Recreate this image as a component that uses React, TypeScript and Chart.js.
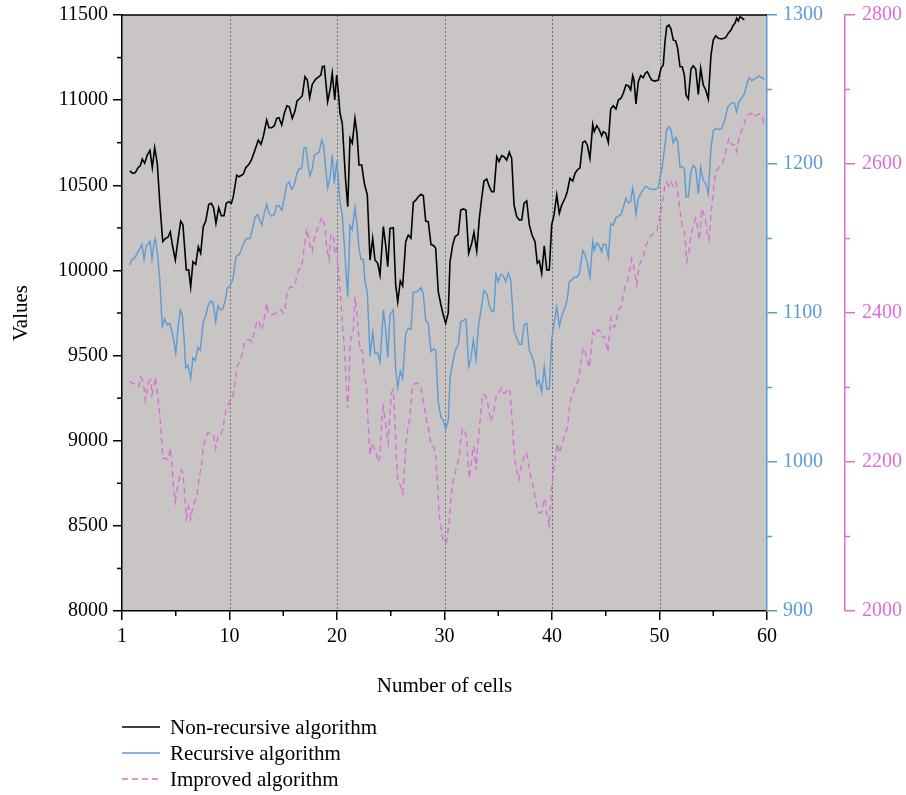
import React, { useEffect, useRef } from 'react';
import { Chart, registerables } from 'chart.js';

Chart.register(...registerables);

const FONT = "'Liberation Serif', 'DejaVu Serif', serif";
const BLACK = '#000000';
const BLUE = '#5b9bd5';
const PINK = '#d870d6';
const PLOT_BG = '#c9c5c5';

const seriesLabels = ['Non-recursive algorithm', 'Recursive algorithm', 'Improved algorithm'];

const nonRecX = [0.72,1.02,1.24,1.49,1.70,1.89,2.11,2.35,2.60,2.82,3.04,3.28,3.53,3.79,4.07,4.28,4.49,4.72,4.96,5.21,5.46,5.67,5.83,5.98,6.20,6.39,6.60,6.86,7.10,7.32,7.56,7.79,8.07,8.31,8.53,8.74,9.00,9.24,9.49,9.70,9.95,10.17,10.35,10.67,10.88,11.28,11.51,11.81,12.07,12.37,12.68,12.93,13.14,13.46,13.67,13.93,14.17,14.39,14.60,14.86,15.10,15.35,15.56,15.84,16.09,16.28,16.56,16.77,17.02,17.24,17.46,17.70,18.02,18.33,18.51,18.63,18.82,19.13,19.38,19.56,19.79,19.97,20.12,20.28,20.49,20.68,20.81,21.00,21.21,21.42,21.67,21.86,22.05,22.30,22.54,22.82,23.07,23.32,23.53,23.79,24.00,24.31,24.53,24.72,24.93,25.24,25.46,25.65,25.89,26.11,26.39,26.63,26.88,27.10,27.35,27.56,27.81,28.03,28.25,28.49,28.74,29.00,29.18,29.42,29.67,29.89,30.11,30.35,30.51,30.76,30.98,31.28,31.51,31.75,32.00,32.25,32.53,32.74,33.00,33.24,33.46,33.67,33.93,34.17,34.39,34.60,34.86,35.07,35.32,35.53,35.79,36.03,36.25,36.47,36.72,36.96,37.18,37.40,37.65,37.89,38.14,38.42,38.63,38.82,39.04,39.28,39.51,39.75,39.97,40.19,40.44,40.68,40.90,41.21,41.42,41.67,41.93,42.14,42.35,42.60,42.86,43.07,43.28,43.53,43.79,43.93,44.16,44.40,44.62,44.77,45.00,45.24,45.46,45.70,45.95,46.17,46.42,46.63,46.88,47.10,47.32,47.51,47.63,47.81,48.03,48.25,48.49,48.68,48.87,49.05,49.27,49.58,49.89,50.14,50.35,50.51,50.67,50.88,51.07,51.28,51.51,51.69,51.91,52.12,52.31,52.47,52.68,52.93,53.14,53.37,53.61,53.83,54.07,54.30,54.54,54.79,55.00,55.23,55.47,55.79,56.16,56.40,56.65,56.87,57.02,57.18,57.33,57.49,57.70,57.89];
const nonRecValues = [10584,10570,10574,10603,10615,10654,10629,10678,10705,10603,10721,10629,10384,10169,10189,10195,10227,10139,10061,10179,10290,10267,10130,10003,10003,9904,10051,10036,10139,10101,10257,10290,10388,10394,10365,10277,10368,10321,10321,10394,10404,10394,10433,10560,10550,10565,10603,10623,10654,10707,10766,10741,10785,10883,10838,10838,10850,10893,10897,10854,10923,10967,10961,10893,10936,10995,11011,11026,11138,11118,11014,11093,11124,11138,11148,11196,11200,10991,11071,11158,11001,11148,11050,10923,10864,10658,10521,10374,10776,10747,10893,10805,10619,10619,10512,10443,10061,10189,10061,10042,9973,10257,10149,10022,10247,10251,9914,9816,9938,9909,10169,10208,10189,10400,10414,10433,10447,10439,10290,10286,10153,10145,10130,9875,9797,9738,9690,9750,10051,10149,10198,10212,10355,10361,10355,10101,10159,10224,10114,10306,10424,10525,10537,10492,10462,10462,10668,10639,10674,10668,10648,10694,10658,10384,10316,10296,10296,10394,10408,10267,10208,10169,10042,10055,9983,10145,10003,10003,10267,10326,10443,10335,10384,10424,10462,10541,10525,10570,10590,10603,10752,10760,10737,10658,10858,10815,10850,10825,10791,10815,10805,10752,10948,10967,10948,11001,11011,11040,11089,11085,11060,11144,11118,10977,11108,11144,11132,11158,11167,11144,11118,11112,11118,11187,11206,11343,11431,11441,11418,11353,11347,11304,11196,11196,11148,11030,11007,11183,11202,11183,11034,11187,11089,11060,11007,11265,11353,11378,11363,11359,11367,11393,11412,11441,11451,11481,11465,11490,11481,11472];

const recX = [0.72,0.93,1.18,1.42,1.65,1.86,2.05,2.26,2.42,2.60,2.79,2.98,3.10,3.28,3.51,3.75,3.97,4.21,4.44,4.59,4.81,5.00,5.21,5.42,5.61,5.77,5.93,6.14,6.39,6.60,6.82,7.07,7.28,7.56,7.79,8.00,8.25,8.47,8.72,8.93,9.18,9.40,9.61,9.80,10.05,10.33,10.60,10.88,11.13,11.38,11.60,11.91,12.12,12.37,12.62,12.84,13.00,13.24,13.46,13.67,13.93,14.17,14.39,14.60,14.86,15.10,15.32,15.53,15.79,16.03,16.25,16.47,16.72,16.93,17.12,17.33,17.49,17.70,17.89,18.11,18.33,18.58,18.76,18.95,19.13,19.35,19.56,19.75,19.97,20.12,20.28,20.49,20.68,20.84,21.00,21.21,21.42,21.67,21.86,22.05,22.23,22.45,22.60,22.82,23.07,23.32,23.53,23.79,24.00,24.31,24.53,24.72,24.93,25.24,25.46,25.65,25.89,26.11,26.39,26.63,26.88,27.10,27.35,27.56,27.81,28.03,28.25,28.49,28.74,29.00,29.18,29.42,29.67,29.89,30.11,30.35,30.53,30.72,30.98,31.13,31.28,31.51,31.75,32.00,32.25,32.47,32.68,32.93,33.14,33.37,33.67,33.93,34.17,34.39,34.60,34.79,35.00,35.23,35.47,35.69,35.93,36.16,36.47,36.72,36.96,37.18,37.40,37.65,37.89,38.14,38.35,38.58,38.79,39.04,39.28,39.51,39.75,39.97,40.19,40.44,40.68,40.90,41.21,41.42,41.60,41.83,42.05,42.30,42.54,42.86,43.07,43.28,43.53,43.79,43.93,44.16,44.40,44.62,44.77,45.00,45.24,45.46,45.70,45.95,46.17,46.42,46.63,46.88,47.10,47.32,47.51,47.63,47.81,48.03,48.25,48.49,48.74,48.96,49.18,49.42,49.67,49.89,50.05,50.23,50.51,50.67,50.88,51.07,51.28,51.51,51.69,51.91,52.12,52.31,52.47,52.68,52.93,53.14,53.37,53.61,53.83,54.07,54.30,54.54,54.79,55.00,55.23,55.47,55.79,56.09,56.34,56.56,56.77,56.96,57.18,57.40,57.65,57.89,58.11,58.33,58.58,58.82,59.04,59.26,59.51,59.75];
const recValues = [1132,1136,1137,1140,1143,1146,1136,1145,1146,1148,1136,1147,1150,1141,1123,1091,1096,1092,1093,1089,1082,1073,1090,1102,1099,1083,1063,1065,1056,1070,1068,1077,1075,1094,1098,1105,1108,1107,1094,1105,1102,1103,1109,1117,1118,1123,1138,1139,1143,1148,1150,1150,1156,1164,1166,1162,1159,1167,1173,1167,1165,1166,1172,1172,1169,1177,1186,1188,1183,1186,1193,1197,1197,1211,1211,1198,1192,1197,1206,1207,1208,1216,1212,1197,1184,1191,1206,1187,1202,1190,1174,1166,1146,1128,1111,1159,1156,1171,1159,1143,1136,1136,1121,1114,1071,1087,1073,1073,1067,1102,1089,1070,1099,1102,1062,1050,1061,1056,1086,1090,1089,1114,1114,1115,1117,1113,1095,1093,1074,1076,1075,1040,1030,1028,1022,1028,1057,1065,1074,1077,1078,1094,1095,1096,1064,1070,1082,1069,1090,1101,1115,1113,1105,1101,1101,1126,1121,1126,1125,1121,1127,1122,1088,1083,1079,1079,1092,1093,1075,1071,1066,1052,1055,1047,1064,1049,1049,1082,1093,1104,1091,1098,1104,1109,1121,1122,1124,1124,1126,1142,1139,1134,1124,1148,1142,1147,1145,1141,1146,1146,1137,1160,1159,1164,1165,1166,1171,1177,1174,1175,1184,1179,1166,1177,1180,1183,1185,1184,1183,1183,1183,1184,1191,1197,1213,1223,1225,1223,1214,1218,1215,1198,1198,1197,1178,1178,1195,1199,1197,1180,1198,1189,1187,1180,1211,1222,1224,1223,1224,1230,1238,1240,1241,1241,1235,1242,1244,1247,1253,1258,1256,1257,1258,1259,1258,1257];

const impX = [0.72,1.02,1.33,1.55,1.74,1.86,2.05,2.17,2.30,2.48,2.67,2.79,2.98,3.10,3.28,3.51,3.66,3.81,4.03,4.28,4.49,4.65,4.74,4.96,5.14,5.37,5.52,5.67,5.83,5.98,6.20,6.39,6.60,6.82,7.00,7.16,7.38,7.56,7.75,8.00,8.25,8.49,8.72,8.93,9.12,9.40,9.55,9.70,9.86,10.11,10.33,10.45,10.60,10.76,10.98,11.19,11.38,11.60,11.91,12.07,12.31,12.53,12.74,12.93,13.14,13.30,13.46,13.61,13.77,14.07,14.33,14.54,14.79,15.00,15.16,15.26,15.41,15.63,15.88,16.09,16.34,16.77,17.02,17.18,17.49,17.70,17.89,18.26,18.58,18.88,19.04,19.26,19.44,19.66,19.81,19.97,20.12,20.28,20.44,20.59,20.74,20.84,21.00,21.12,21.21,21.37,21.52,21.67,21.83,21.98,22.14,22.35,22.54,22.76,22.91,23.07,23.23,23.38,23.60,23.84,24.00,24.16,24.31,24.47,24.62,24.77,24.93,25.09,25.24,25.40,25.49,25.65,25.86,26.11,26.26,26.39,26.58,26.79,26.95,27.19,27.51,27.81,28.03,28.25,28.49,28.74,29.00,29.18,29.37,29.49,29.67,29.80,29.98,30.20,30.45,30.60,30.76,30.98,31.19,31.38,31.51,31.69,31.91,32.07,32.21,32.31,32.44,32.62,32.74,32.93,33.05,33.24,33.37,33.55,33.77,33.98,34.17,34.30,34.54,34.70,34.86,35.10,35.32,35.53,35.72,35.93,36.09,36.25,36.40,36.56,36.72,36.90,37.09,37.27,37.49,37.65,37.80,37.95,38.20,38.42,38.63,38.82,39.04,39.19,39.35,39.51,39.75,39.97,40.12,40.34,40.49,40.68,40.90,41.12,41.30,41.46,41.58,41.67,41.98,42.14,42.45,42.60,42.76,42.91,43.07,43.23,43.47,43.60,43.69,43.79,44.00,44.21,44.47,44.72,44.93,45.09,45.18,45.27,45.40,45.46,45.61,45.77,45.93,46.08,46.26,46.48,46.63,46.79,47.00,47.26,47.41,47.56,47.72,47.88,48.03,48.19,48.49,48.74,48.96,49.27,49.49,49.74,49.98,50.20,50.35,50.51,50.67,50.88,51.07,51.28,51.51,51.69,51.91,52.12,52.31,52.44,52.53,52.74,52.93,53.14,53.37,53.55,53.70,53.93,54.07,54.30,54.48,54.60,54.79,55.00,55.23,55.47,55.79,56.03,56.25,56.47,56.72,56.96,57.18,57.33,57.58,57.80,58.02,58.26,58.58,58.82,59.04,59.26,59.51,59.75];
const impValues = [2308,2306,2303,2301,2314,2312,2299,2283,2294,2308,2310,2290,2301,2314,2294,2265,2234,2205,2205,2203,2218,2198,2174,2147,2165,2180,2189,2185,2158,2124,2140,2124,2140,2149,2158,2178,2194,2221,2230,2239,2238,2238,2218,2234,2234,2245,2261,2270,2276,2284,2288,2301,2317,2330,2335,2346,2361,2364,2364,2361,2375,2387,2390,2377,2384,2400,2413,2400,2398,2398,2400,2404,2404,2400,2404,2417,2431,2435,2435,2438,2455,2467,2496,2513,2491,2482,2500,2516,2529,2516,2487,2471,2505,2505,2480,2487,2458,2431,2400,2370,2341,2306,2272,2310,2355,2375,2377,2422,2406,2377,2350,2350,2319,2297,2247,2209,2225,2221,2214,2200,2207,2256,2274,2259,2239,2225,2270,2294,2297,2256,2216,2174,2170,2158,2185,2221,2243,2261,2294,2305,2306,2300,2281,2261,2247,2223,2221,2207,2167,2131,2113,2100,2091,2093,2122,2153,2171,2185,2196,2209,2230,2245,2241,2230,2194,2178,2192,2216,2221,2189,2216,2245,2265,2290,2290,2283,2265,2254,2265,2279,2292,2294,2299,2292,2294,2299,2294,2265,2230,2203,2189,2176,2192,2200,2212,2212,2198,2185,2171,2153,2136,2131,2133,2145,2151,2131,2115,2165,2185,2209,2225,2212,2221,2234,2239,2250,2265,2281,2294,2301,2310,2323,2339,2353,2350,2339,2327,2342,2357,2374,2370,2377,2376,2367,2368,2355,2348,2361,2377,2393,2387,2381,2384,2397,2406,2411,2424,2435,2441,2460,2473,2467,2451,2438,2455,2467,2476,2491,2498,2505,2507,2509,2527,2541,2556,2572,2576,2570,2576,2570,2576,2563,2538,2516,2509,2491,2469,2482,2505,2516,2527,2514,2498,2540,2534,2523,2505,2498,2532,2563,2590,2594,2599,2608,2623,2634,2626,2626,2617,2630,2643,2650,2661,2666,2668,2663,2666,2667,2666,2652];

const xTickLabelFirst = '1';
const xGridValues = [10, 20, 30, 40, 50];
const xMinorTicks = [5, 15, 25, 35, 45, 55];
const leftMinorTicks = [8250, 8750, 9250, 9750, 10250, 10750, 11250];
const blueMinorTicks = [950, 1050, 1150, 1250];
const pinkMinorTicks = [2100, 2300, 2500, 2700];

function toPoints(xs: number[], ys: number[]) {
  const n = Math.min(xs.length, ys.length);
  const out: { x: number; y: number }[] = [];
  for (let i = 0; i < n; i++) out.push({ x: xs[i], y: ys[i] });
  return out;
}

const fitWidth = (w: number) => (s: any) => {
  s.width = w;
  s.paddingTop = 0;
  s.paddingBottom = 0;
};

const decorPlugin = {
  id: 'decor',
  beforeDraw(chart: any) {
    const { ctx, chartArea: a } = chart;
    ctx.save();
    ctx.fillStyle = PLOT_BG;
    ctx.fillRect(a.left, a.top, a.right - a.left, a.bottom - a.top);
    ctx.restore();
  },
  beforeDatasetsDraw(chart: any) {
    const { ctx, chartArea: a } = chart;
    const xs = chart.scales.x;
    ctx.save();
    ctx.strokeStyle = '#737373';
    ctx.lineWidth = 1;
    ctx.setLineDash([2, 2]);
    for (const v of xGridValues) {
      const px = Math.round(xs.getPixelForValue(v)) + 0.5;
      ctx.beginPath();
      ctx.moveTo(px, a.top);
      ctx.lineTo(px, a.bottom);
      ctx.stroke();
    }
    ctx.restore();
  },
  afterDraw(chart: any) {
    const { ctx, chartArea: a } = chart;
    ctx.save();
    ctx.strokeStyle = BLACK;
    ctx.lineWidth = 1.5;
    ctx.beginPath();
    ctx.moveTo(a.left, a.top);
    ctx.lineTo(a.right, a.top);
    ctx.stroke();

    const minor = 5;
    const xs = chart.scales.x;
    for (const v of xMinorTicks) {
      const px = xs.getPixelForValue(v);
      ctx.beginPath();
      ctx.moveTo(px, a.bottom);
      ctx.lineTo(px, a.bottom + minor);
      ctx.stroke();
    }
    const yl = chart.scales.y;
    for (const v of leftMinorTicks) {
      const py = yl.getPixelForValue(v);
      ctx.beginPath();
      ctx.moveTo(a.left - minor, py);
      ctx.lineTo(a.left, py);
      ctx.stroke();
    }
    const yb = chart.scales.y1;
    ctx.strokeStyle = BLUE;
    for (const v of blueMinorTicks) {
      const py = yb.getPixelForValue(v);
      ctx.beginPath();
      ctx.moveTo(yb.left, py);
      ctx.lineTo(yb.left + minor, py);
      ctx.stroke();
    }
    const yp = chart.scales.y2;
    ctx.strokeStyle = PINK;
    for (const v of pinkMinorTicks) {
      const py = yp.getPixelForValue(v);
      ctx.beginPath();
      ctx.moveTo(yp.left, py);
      ctx.lineTo(yp.left + minor, py);
      ctx.stroke();
    }

    ctx.font = `21px ${FONT}`;
    ctx.textBaseline = 'middle';
    ctx.textAlign = 'left';
    chart.data.datasets.forEach((ds: any, i: number) => {
      const y = 727 + i * 26;
      ctx.strokeStyle = ds.borderColor;
      ctx.lineWidth = 1.5;
      ctx.setLineDash(ds.borderDash || []);
      ctx.beginPath();
      ctx.moveTo(122, y);
      ctx.lineTo(160, y);
      ctx.stroke();
      ctx.setLineDash([]);
      ctx.fillStyle = BLACK;
      ctx.fillText(ds.label, 170, y + 1);
    });
    ctx.restore();
  },
};

export default function App() {
  const ref = useRef<HTMLCanvasElement | null>(null);

  useEffect(() => {
    if (!ref.current) return;
    const chart = new Chart(ref.current, {
      type: 'line',
      data: {
        datasets: [
          {
            label: seriesLabels[0],
            data: toPoints(nonRecX, nonRecValues),
            borderColor: BLACK,
            borderWidth: 1.6,
            pointRadius: 0,
            yAxisID: 'y',
            tension: 0,
          },
          {
            label: seriesLabels[1],
            data: toPoints(recX, recValues),
            borderColor: BLUE,
            borderWidth: 1.4,
            pointRadius: 0,
            yAxisID: 'y1',
            tension: 0,
          },
          {
            label: seriesLabels[2],
            data: toPoints(impX, impValues),
            borderColor: PINK,
            borderWidth: 1.4,
            borderDash: [6, 4],
            pointRadius: 0,
            yAxisID: 'y2',
            tension: 0,
          },
        ],
      },
      options: {
        animation: false,
        responsive: false,
        maintainAspectRatio: false,
        devicePixelRatio: 1,
        layout: { padding: { top: 15, left: 0, right: 0, bottom: 0 } },
        plugins: {
          legend: { display: false },
          tooltip: { enabled: false },
        },
        scales: {
          x: {
            type: 'linear',
            position: 'bottom',
            min: 0,
            max: 60,
            afterFit: (s: any) => { s.height = 184; },
            ticks: {
              stepSize: 10,
              autoSkip: false,
              maxRotation: 0,
              color: BLACK,
              padding: 5,
              font: { family: FONT, size: 20 },
              callback: (v: any) => (Number(v) === 0 ? xTickLabelFirst : String(v)),
            },
            grid: { drawOnChartArea: false, drawTicks: true, tickLength: 9, tickColor: BLACK, lineWidth: 1.5 },
            border: { display: true, color: BLACK, width: 1.5 },
            title: {
              display: true,
              text: 'Number of cells',
              color: BLACK,
              font: { family: FONT, size: 21 },
              padding: { top: 4, bottom: 96 },
            },
          },
          y: {
            type: 'linear',
            position: 'left',
            min: 8000,
            max: 11500,
            afterFit: fitWidth(122),
            ticks: {
              stepSize: 500,
              autoSkip: false,
              color: BLACK,
              padding: 5,
              font: { family: FONT, size: 20 },
              callback: (v: any) => String(v),
            },
            grid: { drawOnChartArea: false, drawTicks: true, tickLength: 9, tickColor: BLACK, lineWidth: 1.5 },
            border: { display: true, color: BLACK, width: 1.5 },
            title: {
              display: true,
              text: 'Values',
              color: BLACK,
              font: { family: FONT, size: 21 },
              padding: { top: 9, bottom: 0 },
            },
          },
          y1: {
            type: 'linear',
            position: 'right',
            weight: 0,
            min: 900,
            max: 1300,
            afterFit: fitWidth(78),
            ticks: {
              stepSize: 100,
              autoSkip: false,
              color: BLUE,
              padding: 6,
              font: { family: FONT, size: 20 },
              callback: (v: any) => String(v),
            },
            grid: { drawOnChartArea: false, drawTicks: true, tickLength: 10, tickColor: BLUE, lineWidth: 1.5 },
            border: { display: true, color: BLUE, width: 1.5 },
          },
          y2: {
            type: 'linear',
            position: 'right',
            weight: 1,
            min: 2000,
            max: 2800,
            afterFit: fitWidth(61),
            ticks: {
              stepSize: 200,
              autoSkip: false,
              color: PINK,
              padding: 7,
              font: { family: FONT, size: 20 },
              callback: (v: any) => String(v),
            },
            grid: { drawOnChartArea: false, drawTicks: true, tickLength: 10, tickColor: PINK, lineWidth: 1.5 },
            border: { display: true, color: PINK, width: 1.5 },
          },
        },
      },
      plugins: [decorPlugin],
    } as any);
    return () => chart.destroy();
  }, []);

  return (
    <div style={{ position: 'absolute', left: 0, top: 0, width: 906, height: 795 }}>
      <canvas ref={ref} width={906} height={795} style={{ display: 'block' }} />
    </div>
  );
}
